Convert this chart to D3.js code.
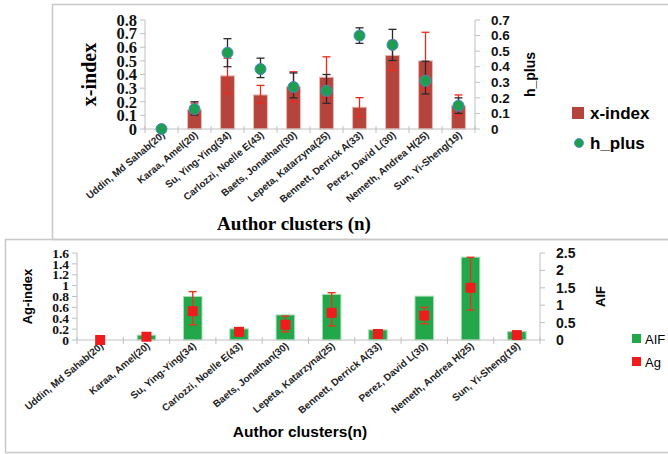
<!DOCTYPE html>
<html>
<head>
<meta charset="utf-8">
<script src="https://cdn.jsdelivr.net/npm/d3@7"></script>
<style>
	body { margin: 0; background: #fff; }
	svg { display: block; }
</style>
</head>
<body>
<script>
const categories = [
	"Uddin, Md Sahab(20)", "Karaa, Amel(20)", "Su, Ying-Ying(34)", "Carlozzi, Noelle E(43)",
	"Baets, Jonathan(30)", "Lepeta, Katarzyna(25)", "Bennett, Derrick A(33)", "Perez, David L(30)",
	"Nemeth, Andrea H(25)", "Sun, Yi-Sheng(19)"
];

// top panel
const xIndex   = [0, 0.14, 0.39, 0.25, 0.31, 0.38, 0.16, 0.54, 0.50, 0.17];
const xIndexLo = [0, 0.11, 0.26, 0.19, 0.20, 0.23, 0.09, 0.43, 0.29, 0.10];
const xIndexHi = [0, 0.19, 0.52, 0.32, 0.42, 0.53, 0.23, 0.65, 0.71, 0.25];
const hPlus    = [0, 0.128, 0.49, 0.385, 0.27, 0.245, 0.60, 0.54, 0.31, 0.15];
const hPlusLo  = [0, 0.09, 0.40, 0.33, 0.20, 0.165, 0.55, 0.44, 0.225, 0.10];
const hPlusHi  = [0, 0.175, 0.58, 0.455, 0.36, 0.35, 0.65, 0.64, 0.435, 0.20];
const xIndexTicks = [0, 0.1, 0.2, 0.3, 0.4, 0.5, 0.6, 0.7, 0.8];
const hPlusTicks  = [0, 0.1, 0.2, 0.3, 0.4, 0.5, 0.6, 0.7];

// bottom panel
const aif   = [0, 0.14, 1.25, 0.32, 0.72, 1.31, 0.29, 1.26, 2.38, 0.24];
const ag    = [0, 0.06, 0.53, 0.15, 0.28, 0.50, 0.11, 0.45, 0.96, 0.09];
const agLo  = [0, 0.05, 0.28, 0.12, 0.15, 0.26, 0.08, 0.30, 0.55, 0.07];
const agHi  = [0, 0.08, 0.89, 0.20, 0.44, 0.87, 0.14, 0.60, 1.52, 0.12];
const agTicks  = [0, 0.2, 0.4, 0.6, 0.8, 1, 1.2, 1.4, 1.6];
const aifTicks = [0, 0.5, 1, 1.5, 2, 2.5];

const W = 668, H = 454;
const SERIF = "'Liberation Serif', 'DejaVu Serif', serif";
const SANS = "'Liberation Sans', Arial, sans-serif";
const BAR_RED = "#b5443c", BAR_GREEN = "#22a84a", AXIS = "#c0c0c0";

const svg = d3.select("body").append("svg")
	.attr("width", W)
	.attr("height", H);

// panel frames
svg.append("rect").attr("x", 52.5).attr("y", 4.5).attr("width", 620).attr("height", 235)
	.attr("fill", "none").attr("stroke", "#c8c8c8").attr("stroke-width", 1.5);
svg.append("rect").attr("x", 5.5).attr("y", 239.5).attr("width", 670).attr("height", 213)
	.attr("fill", "none").attr("stroke", "#c8c8c8").attr("stroke-width", 1.5);

function categoryAxis(parent, x, y0, fontSize, angle) {
	const g = parent.append("g");
	g.append("line")
		.attr("x1", x.range()[0]).attr("x2", x.range()[1])
		.attr("y1", y0).attr("y2", y0)
		.attr("stroke", AXIS);
	const edges = categories.map(c => x(c)).concat([x.range()[1]]);
	g.selectAll("line.tick").data(edges).enter().append("line")
		.attr("class", "tick")
		.attr("stroke", AXIS)
		.attr("x1", d => d).attr("x2", d => d)
		.attr("y1", y0 - 3).attr("y2", y0 + 4);
	g.selectAll("text.cat").data(categories).enter().append("text")
		.attr("class", "cat")
		.attr("transform", d => `translate(${x(d) + x.bandwidth() / 2 + 4},${y0 + 7}) rotate(${angle})`)
		.attr("text-anchor", "end")
		.attr("font-family", SANS)
		.attr("font-weight", "bold")
		.attr("font-size", fontSize)
		.attr("fill", "#222")
		.text(d => d);
}

function valueAxis(parent, y, ticks, xPos, side, font, size, fmt) {
	const g = parent.append("g");
	g.append("line")
		.attr("x1", xPos).attr("x2", xPos)
		.attr("y1", y.range()[0]).attr("y2", y.range()[1])
		.attr("stroke", AXIS);
	const dir = side === "left" ? -1 : 1;
	g.selectAll("line.tick").data(ticks).enter().append("line")
		.attr("class", "tick")
		.attr("stroke", AXIS)
		.attr("x1", xPos).attr("x2", xPos + dir * 5)
		.attr("y1", d => y(d)).attr("y2", d => y(d));
	g.selectAll("text.val").data(ticks).enter().append("text")
		.attr("class", "val")
		.attr("x", xPos + dir * (side === "left" ? 8 : 16))
		.attr("y", d => y(d))
		.attr("dy", "0.35em")
		.attr("text-anchor", side === "left" ? "end" : "start")
		.attr("font-family", font)
		.attr("font-weight", "bold")
		.attr("font-size", size)
		.attr("fill", "#111")
		.text(fmt);
}

function errorBars(parent, x, y, lo, hi, colour, capW, width) {
	const g = parent.append("g")
		.attr("stroke", colour)
		.attr("stroke-width", width);
	const d = categories.map((c, i) => ({ c, lo: lo[i], hi: hi[i] })).filter(d => d.hi > d.lo);
	const cx = d => x(d.c) + x.bandwidth() / 2;
	g.selectAll("line.stem").data(d).enter().append("line")
		.attr("class", "stem")
		.attr("x1", cx).attr("x2", cx)
		.attr("y1", e => y(e.lo)).attr("y2", e => y(e.hi));
	["lo", "hi"].forEach(k => {
		g.selectAll(`line.cap-${k}`).data(d).enter().append("line")
			.attr("class", `cap-${k}`)
			.attr("x1", e => cx(e) - capW / 2).attr("x2", e => cx(e) + capW / 2)
			.attr("y1", e => y(e[k])).attr("y2", e => y(e[k]));
	});
}

// ---------- top chart ----------
{
	const left = 145, right = 475, bottom = 129, top = 20;
	const x = d3.scaleBand().domain(categories).range([left, right]);
	const yL = d3.scaleLinear().domain([0, 0.8]).range([bottom, top]);
	const yR = d3.scaleLinear().domain([0, 0.7]).range([bottom, top]);
	const g = svg.append("g");

	valueAxis(g, yL, xIndexTicks, left, "left", SERIF, 16.5, d => d === 0 ? "0" : d.toFixed(1));
	valueAxis(g, yR, hPlusTicks, right, "right", SANS, 13.5, d => d === 0 ? "0" : d.toFixed(1));

	const bw = x.bandwidth() * 0.42;
	g.append("g").selectAll("rect").data(categories).enter().append("rect")
		.attr("x", c => x(c) + (x.bandwidth() - bw) / 2)
		.attr("width", bw)
		.attr("y", (c, i) => yL(xIndex[i]))
		.attr("height", (c, i) => bottom - yL(xIndex[i]))
		.attr("fill", BAR_RED)
		.attr("stroke", "#e9b9b4").attr("stroke-width", 1);

	errorBars(g, x, yL, xIndexLo, xIndexHi, "#f0281e", 8, 1.3);
	categoryAxis(g, x, bottom, 10, -40);
	errorBars(g, x, yR, hPlusLo, hPlusHi, "#2a2a2a", 8, 1.3);

	g.append("g").selectAll("circle").data(categories).enter().append("circle")
		.attr("cx", c => x(c) + x.bandwidth() / 2)
		.attr("cy", (c, i) => yR(hPlus[i]))
		.attr("r", 5.5)
		.attr("fill", "#1e9e50")
		.attr("stroke", "#4f86c6").attr("stroke-width", 1);

	g.append("text")
		.attr("transform", `translate(96,${(top + bottom) / 2}) rotate(-90)`)
		.attr("text-anchor", "middle")
		.attr("font-family", SERIF).attr("font-weight", "bold").attr("font-size", 20)
		.text("x-index");
	g.append("text")
		.attr("transform", `translate(535,${(top + bottom) / 2}) rotate(-90)`)
		.attr("text-anchor", "middle")
		.attr("font-family", SANS).attr("font-weight", "bold").attr("font-size", 14)
		.text("h_plus");
	g.append("text")
		.attr("x", 294).attr("y", 230)
		.attr("text-anchor", "middle")
		.attr("font-family", SERIF).attr("font-weight", "bold").attr("font-size", 19)
		.text("Author clusters (n)");

	// legend
	g.append("rect").attr("x", 572).attr("y", 107).attr("width", 12).attr("height", 12).attr("fill", BAR_RED);
	g.append("text").attr("x", 590).attr("y", 113).attr("dy", "0.35em")
		.attr("font-family", SANS).attr("font-weight", "bold").attr("font-size", 17).text("x-index");
	g.append("circle").attr("cx", 579).attr("cy", 143).attr("r", 4.5).attr("fill", "#1e9e50")
		.attr("stroke", "#4f86c6").attr("stroke-width", 0.8);
	g.append("text").attr("x", 590).attr("y", 143).attr("dy", "0.35em")
		.attr("font-family", SANS).attr("font-weight", "bold").attr("font-size", 17).text("h_plus");
}

// ---------- bottom chart ----------
{
	const left = 77, right = 540, bottom = 340, top = 253;
	const x = d3.scaleBand().domain(categories).range([left, right]);
	const yL = d3.scaleLinear().domain([0, 1.6]).range([bottom, top]);
	const yR = d3.scaleLinear().domain([0, 2.5]).range([bottom, top]);
	const g = svg.append("g");

	valueAxis(g, yL, agTicks, left, "left", SERIF, 13.5, d => d === 0 || d === 1 ? String(d) : d.toFixed(1));
	valueAxis(g, yR, aifTicks, right, "right", SANS, 14, d => String(d));

	const bw = x.bandwidth() * 0.4;
	g.append("g").selectAll("rect").data(categories).enter().append("rect")
		.attr("x", c => x(c) + (x.bandwidth() - bw) / 2)
		.attr("width", bw)
		.attr("y", (c, i) => yR(aif[i]))
		.attr("height", (c, i) => bottom - yR(aif[i]))
		.attr("fill", BAR_GREEN)
		.attr("stroke", "#a8dcb4").attr("stroke-width", 1);

	categoryAxis(g, x, bottom, 10, -40);
	errorBars(g, x, yL, agLo, agHi, "#e8361e", 8, 1.4);

	g.append("g").selectAll("rect").data(categories).enter().append("rect")
		.attr("x", c => x(c) + x.bandwidth() / 2 - 5)
		.attr("y", (c, i) => yL(ag[i]) - 5)
		.attr("width", 10).attr("height", 10)
		.attr("fill", "#ee1c1c");

	g.append("text")
		.attr("transform", `translate(32,${(top + bottom) / 2}) rotate(-90)`)
		.attr("text-anchor", "middle")
		.attr("font-family", SANS).attr("font-weight", "bold").attr("font-size", 13)
		.text("Ag-index");
	g.append("text")
		.attr("transform", `translate(605,${(top + bottom) / 2}) rotate(-90)`)
		.attr("text-anchor", "middle")
		.attr("font-family", SANS).attr("font-weight", "bold").attr("font-size", 13)
		.text("AIF");
	g.append("text")
		.attr("x", 300).attr("y", 437)
		.attr("text-anchor", "middle")
		.attr("font-family", SANS).attr("font-weight", "bold").attr("font-size", 15.5)
		.text("Author clusters(n)");

	// legend
	g.append("rect").attr("x", 632).attr("y", 334).attr("width", 9).attr("height", 9).attr("fill", BAR_GREEN);
	g.append("text").attr("x", 645).attr("y", 339).attr("dy", "0.35em")
		.attr("font-family", SANS).attr("font-size", 13).text("AIF");
	g.append("rect").attr("x", 632).attr("y", 357).attr("width", 9).attr("height", 9).attr("fill", "#ee1c1c");
	g.append("text").attr("x", 645).attr("y", 362).attr("dy", "0.35em")
		.attr("font-family", SANS).attr("font-size", 13).text("Ag");
}
</script>
</body>
</html>
